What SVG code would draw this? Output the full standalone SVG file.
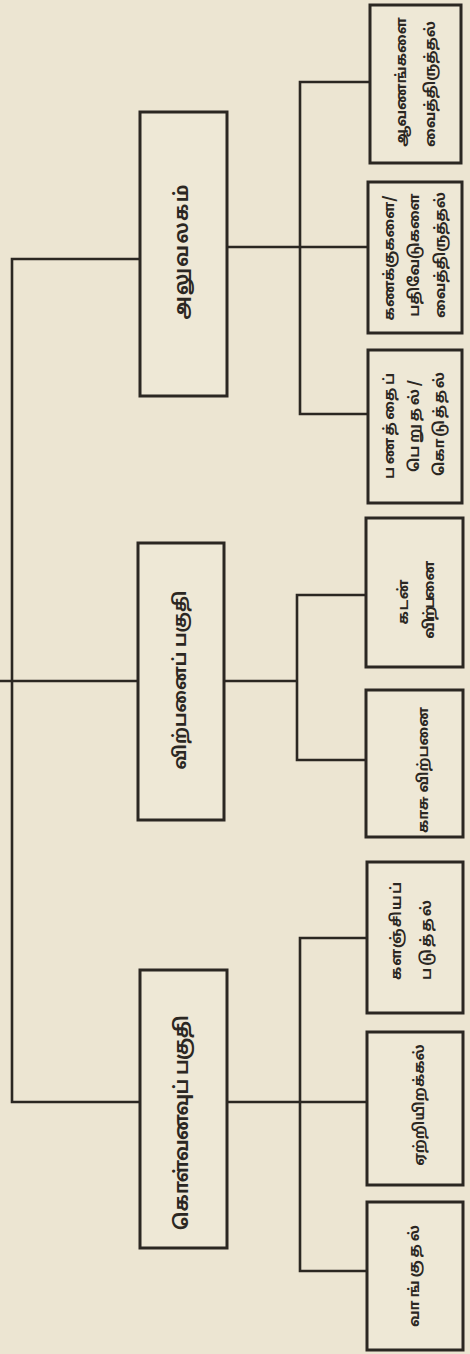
<svg xmlns="http://www.w3.org/2000/svg" width="470" height="1354" viewBox="0 0 470 1354">
<style>
.bg{fill:#ece5d2}
.box{fill:#eee8d6;stroke:#2b2722;stroke-width:3}
.ln{fill:none;stroke:#2b2722;stroke-width:2.6;stroke-linecap:square}
.t{font-family:"Noto Sans Tamil","Lohit Tamil","Noto Sans","DejaVu Sans",sans-serif;font-weight:bold;fill:#2b2722;text-anchor:middle;dominant-baseline:central}
.t1{font-size:19px}
.t2{font-size:14.5px}
</style>
<rect class="bg" x="0" y="0" width="470" height="1354"/>
<g id="connectors">
<path class="ln" d="M0 681 H12 M12 259 V1102 M12 259 H140 M12 681 H138 M12 1102 H140"/>
<path class="ln" d="M227 247 H300 M300 82 V414 M300 82 H370 M300 247 H368 M300 414 H368"/>
<path class="ln" d="M225 681 H297 M297 595 V760 M297 595 H366 M297 760 H366"/>
<path class="ln" d="M227 1102 H300 M300 938 V1271 M300 938 H368 M300 1102 H368 M300 1271 H368"/>
</g>
<g id="office"><rect class="box" x="140" y="112" width="87" height="284"/><text class="t t1" transform="translate(183,252) rotate(-90)" textLength="135">அலுவலகம்</text></g>
<g id="sales"><rect class="box" x="138" y="543" width="86" height="277"/><text class="t" style="font-size:17.5px" transform="translate(181,680) rotate(-90)">விற்பனைப் பகுதி</text></g>
<g id="purchase"><rect class="box" x="140" y="970" width="87" height="278"/><text class="t t1" transform="translate(183,1123) rotate(-90)" textLength="215">கொள்வனவுப் பகுதி</text></g>
<g id="records"><rect class="box" x="370" y="5" width="91" height="158"/><text class="t t2" transform="translate(402,82) rotate(-90)">ஆவணங்களை</text><text class="t t2" transform="translate(431,84) rotate(-90)">வைத்திருத்தல்</text></g>
<g id="accounts"><rect class="box" x="368" y="182" width="94" height="151"/><text class="t t2" transform="translate(390,258) rotate(-90)">கணக்குகளை/</text><text class="t t2" transform="translate(415,255) rotate(-90)">பதிவேடுகளை</text><text class="t t2" transform="translate(441,255) rotate(-90)">வைத்திருத்தல்</text></g>
<g id="cash"><rect class="box" x="368" y="350" width="94" height="153"/><text class="t t2" transform="translate(390,426) rotate(-90)" textLength="106">பணத்தைப்</text><text class="t t2" transform="translate(415,426) rotate(-90)" textLength="92">பெறுதல்/</text><text class="t t2" transform="translate(440,424) rotate(-90)" textLength="104">கொடுத்தல்</text></g>
<g id="credit"><rect class="box" x="366" y="518" width="97" height="149"/><text class="t t2" transform="translate(404,602) rotate(-90)" textLength="45">கடன்</text><text class="t t2" transform="translate(430,601) rotate(-90)" textLength="78">விற்பனை</text></g>
<g id="cashsale"><rect class="box" x="366" y="690" width="97" height="147"/><text class="t t2" transform="translate(424,770) rotate(-90)">காசு விற்பனை</text></g>
<g id="store"><rect class="box" x="367" y="862" width="96" height="151"/><text class="t t2" transform="translate(397,931) rotate(-90)" textLength="98">களஞ்சியப்</text><text class="t t2" transform="translate(427,940) rotate(-90)" textLength="80">படுத்தல்</text></g>
<g id="loading"><rect class="box" x="367" y="1032" width="96" height="153"/><text class="t t2" transform="translate(420,1105) rotate(-90)">ஏற்றியிறக்கல்</text></g>
<g id="buying"><rect class="box" x="367" y="1202" width="96" height="148"/><text class="t t2" transform="translate(415,1276) rotate(-90)" textLength="102">வாங்குதல்</text></g>
</svg>
